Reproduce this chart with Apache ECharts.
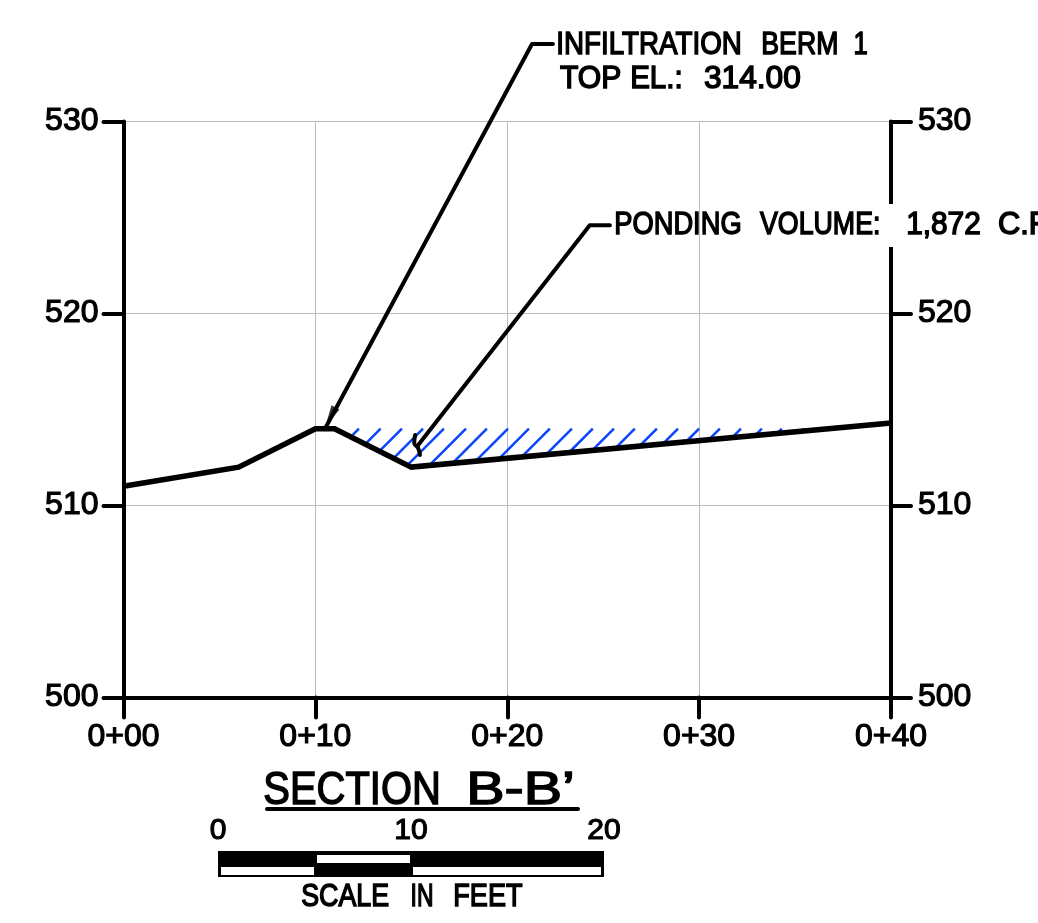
<!DOCTYPE html>
<html><head><meta charset="utf-8">
<style>html,body{margin:0;padding:0;background:#fff}#c{width:1038px;height:923px}</style>
<script src="https://cdn.jsdelivr.net/npm/echarts@6/dist/echarts.min.js"></script>
</head><body><div id="c"></div>
<script>
const elevationTicks = [500, 510, 520, 530];
const stationTicks = ['0+00', '0+10', '0+20', '0+30', '0+40'];
const profileStations = [0, 6, 10, 11, 15, 40];
const profileElevations = [511, 512, 514, 514, 512, 514.3];
const hatchTopStations = [12.27, 13.40, 14.51, 15.61, 16.7, 17.85, 18.94, 20.04, 21.13, 22.22, 23.37, 24.46, 25.56, 26.65, 27.8, 28.9, 30.0, 31.08, 32.18, 33.27, 34.31, 35.46];
const hatchFootStations = [11.85, 12.6, 13.34, 14.07, 14.8, 15.94, 17.14, 18.35, 19.55, 20.75, 22.02, 23.22, 24.43, 25.63, 26.9, 28.11, 29.32, 30.51, 31.72, 32.92, 34.06, 35.33];
const hatchFootElevations = [513.58, 513.2, 512.83, 512.46, 512.1, 512.09, 512.2, 512.31, 512.42, 512.53, 512.65, 512.76, 512.87, 512.98, 513.1, 513.21, 513.32, 513.43, 513.54, 513.65, 513.75, 513.87];
const hatchTopElevation = 514;
const berm = { stations: [22.38, 21.29, 10.55], elevations: [534.04, 534.04, 514.09] };
const pond = { stations: [25.35, 24.3, 15.35], elevations: [524.6, 524.6, 513.14] };
const squiggle = { stations: [15.2, 15.15, 15.35, 15.45], elevations: [513.67, 513.26, 513.0, 512.63] };
const scaleTicks = [0, 10, 20];
const scaleWhiteCells = [[0, 5, 0], [5, 10, 1], [10, 20, 0]];
const labelWords = [
  ['INFILTRATION', 558, 740, 45.5, 32], ['BERM', 763, 837, 45.5, 32], ['1', 855, 867, 45.5, 32],
  ['TOP', 560, 620, 79, 32], ['EL.:', 632, 680, 79, 32], ['314.00', 705, 800, 79, 32],
  ['PONDING', 616, 740, 225.5, 32], ['VOLUME:', 760, 878, 225.5, 32], ['1,872', 908, 980, 225.5, 32], ['C.F.', 999, 1050, 225.5, 32],
  ['SECTION', 265, 438, 791, 46], ['B-B\u2019', 470, 572, 791, 46],
  ['SCALE', 302, 388, 897.5, 32], ['IN', 412, 432, 897.5, 32], ['FEET', 455, 522, 897.5, 32]
];

const font = '"Liberation Sans", Arial, sans-serif';
const black = '#000';
const hatchSeries = hatchTopStations.map((s, i) => ({
  type: 'line', xAxisIndex: 0, yAxisIndex: 0, silent: true, symbol: 'none', z: 3,
  lineStyle: { color: '#0a44ff', width: 2.5 },
  data: [[s, hatchTopElevation], [hatchFootStations[i], hatchFootElevations[i]]]
}));
function leader(o, w) {
  return { type: 'line', xAxisIndex: 0, yAxisIndex: 0, silent: true, symbol: 'none', clip: false, z: 5,
    lineStyle: { color: black, width: w, cap: 'round', join: 'round' },
    data: o.stations.map((s, i) => [s, o.elevations[i]]) };
}
const measure = document.createElement('canvas').getContext('2d');
function word([s, xl, xr, cy, size]) {
  const f = size + 'px ' + font;
  measure.font = f;
  const m = measure.measureText(s);
  const ink = m.actualBoundingBoxLeft + m.actualBoundingBoxRight;
  const sx = (xr - xl) / ink;
  return { type: 'text', z: 20, x: xl + m.actualBoundingBoxLeft * sx, y: cy, scaleX: sx,
    style: { text: s, x: 0, y: 0, font: f, fill: black, stroke: black, lineWidth: 1.5, lineJoin: 'round', textAlign: 'left', textVerticalAlign: 'middle' } };
}
const tickLabel = { color: black, fontFamily: font, fontSize: 32, textBorderColor: black, textBorderWidth: 1.2 };
const axisStroke = { color: black, width: 4, cap: 'round' };
const chart = echarts.init(document.getElementById('c'), null, { renderer: 'canvas' });
const insets = [[3, 0.5], [2.5, 1], [2, 3]];
chart.setOption({
  animation: false,
  backgroundColor: '#fff',
  grid: [
    { left: 123.5, top: 121.5, width: 767.5, height: 576, show: false },
    { left: 218, top: 851, width: 386, height: 26, show: false }
  ],
  xAxis: [
    { type: 'value', gridIndex: 0, min: 0, max: 40, interval: 10,
      axisLine: { show: true, onZero: false, lineStyle: axisStroke },
      axisTick: { show: true, length: 20, lineStyle: axisStroke },
      axisLabel: { ...tickLabel, margin: 24, hideOverlap: false, formatter: v => stationTicks[v / 10] },
      splitLine: { show: true, lineStyle: { color: '#bdbdbd', width: 1 } } },
    { type: 'value', gridIndex: 1, min: 0, max: 20, interval: 10, position: 'top',
      axisLine: { show: false }, axisTick: { show: false }, splitLine: { show: false },
      axisLabel: { ...tickLabel, fontSize: 30, margin: 5, formatter: v => scaleTicks[v / 10] + '' } }
  ],
  yAxis: [
    { type: 'value', gridIndex: 0, min: 500, max: 530, interval: 10, position: 'left',
      axisLine: { show: true, onZero: false, lineStyle: axisStroke },
      axisTick: { show: true, length: 20, lineStyle: axisStroke },
      axisLabel: { ...tickLabel, margin: 25, padding: [4, 0, 0, 0], formatter: v => elevationTicks[(v - 500) / 10] + '' },
      splitLine: { show: true, lineStyle: { color: '#bdbdbd', width: 1 } } },
    { type: 'value', gridIndex: 0, min: 500, max: 530, interval: 10, position: 'right',
      axisLine: { show: true, onZero: false, lineStyle: axisStroke },
      axisTick: { show: true, length: 20, lineStyle: axisStroke },
      axisLabel: { ...tickLabel, margin: 27, padding: [4, 0, 0, 0], formatter: v => elevationTicks[(v - 500) / 10] + '' },
      splitLine: { show: false } },
    { type: 'value', gridIndex: 1, min: 0, max: 2, show: false }
  ],
  series: [
    ...hatchSeries,
    { type: 'line', xAxisIndex: 0, yAxisIndex: 0, silent: true, symbol: 'none', z: 4,
      lineStyle: { color: black, width: 5.5, join: 'miter' },
      data: profileStations.map((s, i) => [s, profileElevations[i]]) },
    leader(berm, 4),
    leader(pond, 4),
    { ...leader(squiggle, 4), smooth: true },
    { type: 'scatter', xAxisIndex: 0, yAxisIndex: 0, silent: true, z: 6, symbol: 'triangle', symbolSize: [9, 22], symbolRotate: 152,
      itemStyle: { color: black }, data: [[10.78, 514.6]] },
    { type: 'custom', xAxisIndex: 1, yAxisIndex: 2, silent: true, z: 2, clip: false,
      data: [[0, 20, 0]],
      renderItem: (p, api) => {
        const a = api.coord([api.value(0), 0]), b = api.coord([api.value(1), 2]);
        return { type: 'rect', shape: { x: a[0], y: b[1], width: b[0] - a[0], height: a[1] - b[1] }, style: { fill: black } };
      } },
    { type: 'custom', xAxisIndex: 1, yAxisIndex: 2, silent: true, z: 3, clip: false,
      data: scaleWhiteCells,
      renderItem: (p, api) => {
        const row = api.value(2);
        const a = api.coord([api.value(0), row]), b = api.coord([api.value(1), row + 1]);
        const ins = insets[p.dataIndex];
        const top = row === 0 ? 3 : 4, bottom = row === 0 ? 2 : 1;
        return { type: 'rect', shape: { x: a[0] + ins[0], y: b[1] + top, width: b[0] - a[0] - ins[0] - ins[1], height: a[1] - b[1] - top - bottom }, style: { fill: '#fff' } };
      } }
  ],
  graphic: [
    { type: 'rect', z: 15, shape: { x: 885, y: 204, width: 14, height: 43 }, style: { fill: '#fff' } },
    ...labelWords.map(word),
    { type: 'rect', z: 20, shape: { x: 265, y: 807, width: 315, height: 4, r: 2 }, style: { fill: black } }
  ]
});
</script></body></html>
